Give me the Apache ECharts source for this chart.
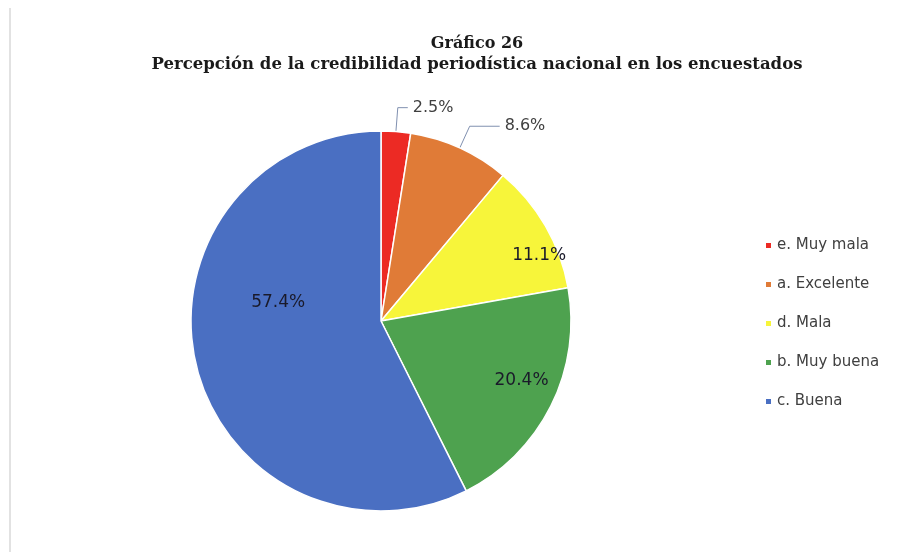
<!DOCTYPE html>
<html>
<head>
<meta charset="utf-8">
<script src="https://cdn.jsdelivr.net/npm/echarts@6/dist/echarts.min.js"></script>
<style>
html,body{margin:0;padding:0;background:#fff;}
#c{width:914px;height:552px;}
</style>
</head>
<body>
<div id="c"></div>
<script>
const categories = ['e. Muy mala', 'a. Excelente', 'd. Mala', 'b. Muy buena', 'c. Buena'];
const values = [2.5, 8.6, 11.1, 20.4, 57.4];
const colors = ['#EC2A24', '#E07B37', '#F7F53A', '#4EA24F', '#4A6FC2'];
const outsideLabels = [true, true, false, false, false];
// styling: leader-line second segment lengths and inside label nudges ("best fit")
const leaderLen2 = [10, 30, 10, 10, 10];
const labelNudges = [[0, 0], [0, 0], [24, 12], [2, -10], [48, -54]];

const chart = echarts.init(document.getElementById('c'));
const center = [381, 321];
const R = 190;

const mainData = categories.map((n, i) => ({
  name: n, value: values[i],
  itemStyle: { color: colors[i] },
  label: { show: outsideLabels[i] },
  labelLine: { show: outsideLabels[i], length2: leaderLen2[i] }
}));
const labelData = categories.map((n, i) => ({
  name: n, value: values[i],
  label: { show: !outsideLabels[i] }
}));

chart.setOption({
  backgroundColor: '#ffffff',
  animation: false,
  title: {
    text: 'Gráfico 26',
    subtext: 'Percepción de la credibilidad periodística nacional en los encuestados',
    left: 472, top: 31, textAlign: 'center',
    itemGap: 4,
    textStyle: { fontFamily: 'DejaVu Serif', fontWeight: 'bold', fontSize: 16, color: '#1a1a1a' },
    subtextStyle: { fontFamily: 'DejaVu Serif', fontWeight: 'bold', fontSize: 16.5, color: '#1a1a1a' }
  },
  legend: {
    orient: 'vertical', left: 759, top: 233,
    itemWidth: 7, itemHeight: 7, itemGap: 24, icon: 'rect',
    data: categories,
    textStyle: { fontFamily: 'DejaVu Sans', fontSize: 15, color: '#404040' }
  },
  graphic: [{
    type: 'line', shape: { x1: 10, y1: 8, x2: 10, y2: 552 },
    style: { stroke: '#d9d9d9', lineWidth: 1.5 }
  }],
  series: [{
    type: 'pie', center: center, radius: [0, R],
    startAngle: 90, clockwise: true,
    data: mainData,
    itemStyle: { borderColor: '#ffffff', borderWidth: 1.5 },
    label: {
      position: 'outside', formatter: '{d}%',
      fontFamily: 'DejaVu Sans', fontSize: 16, color: '#404040'
    },
    labelLine: { length: 24, length2: 10, lineStyle: { color: '#8090b0', width: 1 } },
    emphasis: { disabled: true }
  }, {
    type: 'pie', center: center, radius: [0, 2 * 0.8 * R],
    startAngle: 90, clockwise: true, silent: true,
    data: labelData,
    itemStyle: { color: 'rgba(0,0,0,0)' },
    label: {
      position: 'inside', formatter: '{d}%',
      fontFamily: 'DejaVu Sans', fontSize: 17, color: '#1a1a2a'
    },
    labelLayout: function (p) {
      const n = labelNudges[p.dataIndex];
      return { dx: n[0], dy: n[1] };
    },
    labelLine: { show: false },
    emphasis: { disabled: true },
    legendHoverLink: false
  }]
});
</script>
</body>
</html>
